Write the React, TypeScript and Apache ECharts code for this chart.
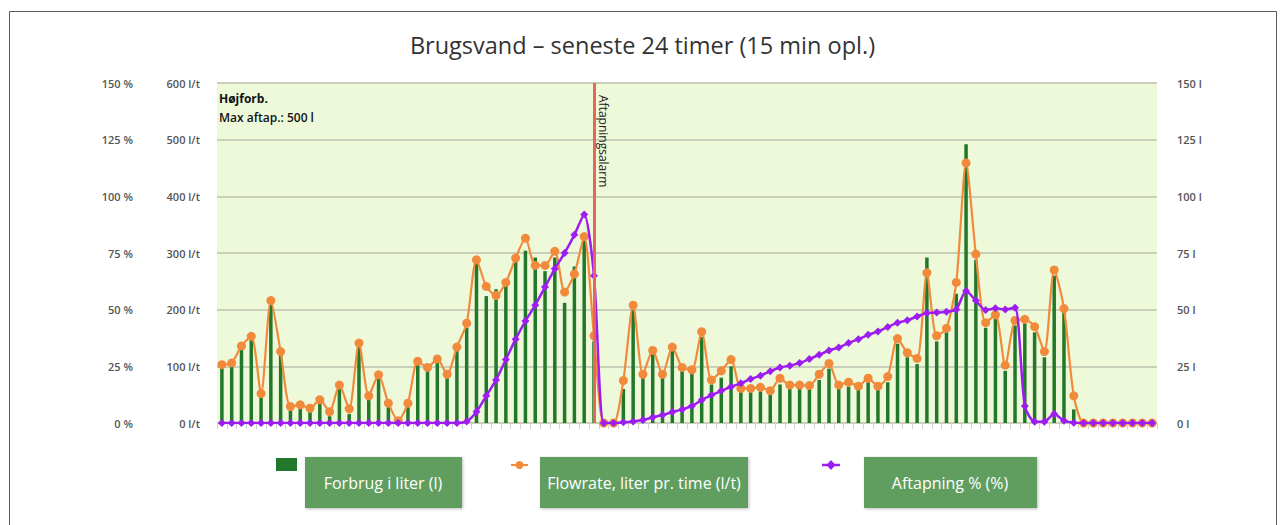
import React, { useEffect, useRef } from "react";
import * as echarts from "echarts";

const TITLE = "Brugsvand – seneste 24 timer (15 min opl.)";
const NOTE_1 = "Højforb.";
const NOTE_2 = "Max aftap.: 500 l";
const ALARM = "Aftapningsalarm";
const ALARM_INDEX = 38;

const LEGEND_NAMES = ["Forbrug i liter (l)", "Flowrate, liter pr. time (l/t)", "Aftapning % (%)"];

// 96 quarter-hour slots (24 h)
const categories: string[] = [];
for (let h = 0; h < 24; h++) {
  for (let m = 0; m < 60; m += 15) {
    categories.push(`${String(h).padStart(2, "0")}:${String(m).padStart(2, "0")}`);
  }
}

// Forbrug i liter (l) – right axis
const usage = [
  25, 26, 33, 37, 12, 53, 30, 6, 7, 5, 9, 3, 16, 4, 34, 11, 20, 7, 1, 7, 26, 24, 28, 21,
  32, 42, 71, 56, 59, 62, 71, 76, 73, 67, 73, 53, 69, 81, 36, 0, 0, 15, 50, 20, 31, 21, 32, 24,
  22, 38, 17, 20, 25, 14, 14, 14, 13, 17, 15, 15, 15, 19, 24, 15, 16, 15, 18, 15, 18, 35, 29, 26,
  73, 36, 40, 57, 123, 72, 42, 47, 23, 43, 44, 40, 29, 65, 50, 6, 0, 0, 0, 0, 0, 0, 0, 0,
];

// Flowrate, liter pr. time (l/t) – left inner axis
const flow = [
  103, 106, 136, 153, 52, 216, 126, 29, 32, 26, 41, 20, 67, 25, 141, 48, 85, 35, 4, 35, 109, 98, 113, 86,
  134, 176, 288, 241, 225, 248, 291, 326, 278, 278, 303, 231, 263, 329, 154, 0, 0, 75, 208, 86, 128, 86, 134, 98,
  94, 161, 76, 92, 112, 61, 61, 63, 57, 79, 67, 67, 66, 86, 105, 67, 72, 65, 79, 65, 82, 149, 124, 114,
  265, 154, 167, 248, 459, 298, 177, 191, 102, 181, 183, 170, 126, 270, 202, 48, 0, 0, 0, 0, 0, 0, 0, 0,
];

// Aftapning % (%) – left outer axis
const tapping = [
  0, 0, 0, 0, 0, 0, 0, 0, 0, 0, 0, 0, 0, 0, 0, 0, 0, 0, 0, 0, 0, 0, 0, 0,
  0, 0.7, 5, 12, 19, 28, 37, 45, 52, 60, 68, 75, 83, 92, 65, 0, 0, 0.3, 0.7, 1.3, 2.5, 3.5, 4.8, 6,
  7.5, 10.1, 12.3, 14.2, 16, 17.5, 19.4, 20.9, 22.8, 24.5, 25.3, 26.5, 28.2, 30.1, 32, 33.3, 35.3, 37, 38.9, 40.4, 42.4, 44.2, 45.3, 47,
  48.5, 48.7, 49.1, 50.1, 58.2, 54, 49.8, 50.6, 50.1, 50.9, 7.5, 0.6, 0.6, 4, 1, 0.1, 0, 0, 0, 0, 0, 0, 0, 0,
];

const GREEN_BAR = "#22782a";
const ORANGE = "#f28a3c";
const PURPLE = "#9d1cf0";
const BOX = "#5f9e5f";
const AXIS_FONT = "'Open Sans', sans-serif";
const NARROW = "'Liberation Sans Narrow', 'Open Sans', sans-serif";

export default function App() {
  const ref = useRef<HTMLDivElement>(null);
  useEffect(() => {
    if (!ref.current) return;
    const chart = echarts.init(ref.current, undefined, { renderer: "svg" });
    const axisLabel = { color: "#555", fontSize: 11, fontWeight: 600 as const, fontFamily: AXIS_FONT };
    const option: any = {
      animation: false,
      backgroundColor: "#fff",
      title: {
        text: TITLE,
        left: "center",
        top: 28,
        textStyle: { fontSize: 23.5, fontWeight: "normal", color: "#333", fontFamily: AXIS_FONT },
      },
      grid: {
        left: 217,
        right: 128,
        top: 83,
        bottom: 102,
        show: true,
        backgroundColor: "#eef9da",
        borderWidth: 0,
      },
      xAxis: {
        type: "category",
        data: categories,
        boundaryGap: true,
        axisLine: { show: false },
        axisTick: { show: true, interval: 0, length: 6, lineStyle: { color: "#d0d0d0" } },
        axisLabel: { show: false },
        splitLine: { show: false },
      },
      yAxis: [
        {
          type: "value",
          position: "left",
          offset: 67,
          min: 0,
          max: 150,
          interval: 25,
          axisLine: { show: false },
          axisTick: { show: false },
          splitLine: { show: false },
          axisLabel: { ...axisLabel, margin: 17, formatter: "{value} %" },
        },
        {
          type: "value",
          position: "left",
          min: 0,
          max: 600,
          interval: 100,
          axisLine: { show: false },
          axisTick: { show: false },
          splitLine: { show: true, lineStyle: { color: "#c8cfbb", width: 2 } },
          axisLabel: { ...axisLabel, margin: 17, formatter: "{value} l/t" },
        },
        {
          type: "value",
          position: "right",
          min: 0,
          max: 150,
          interval: 25,
          axisLine: { show: false },
          axisTick: { show: false },
          splitLine: { show: false },
          axisLabel: { ...axisLabel, margin: 20, formatter: "{value} l" },
        },
      ],
      series: [
        {
          name: LEGEND_NAMES[0],
          type: "bar",
          yAxisIndex: 2,
          data: usage,
          barWidth: 3.5,
          itemStyle: { color: GREEN_BAR },
          z: 2,
        },
        {
          name: LEGEND_NAMES[1],
          type: "line",
          yAxisIndex: 1,
          data: flow,
          smooth: 0.25,
          symbol: "circle",
          symbolSize: 9,
          showAllSymbol: true,
          lineStyle: { color: ORANGE, width: 2.2 },
          itemStyle: { color: ORANGE },
          z: 3,
          markLine: {
            silent: true,
            symbol: ["none", "none"],
            lineStyle: { color: "#e8655a", width: 3, type: "solid" },
            label: {
              show: true,
              formatter: ALARM,
              position: "insideStartTop",
              distance: 4,
              padding: [0, 0, 0, 8],
              color: "#222",
              fontSize: 12,
              fontFamily: AXIS_FONT,
            },
            data: [
              [
                { xAxis: categories[ALARM_INDEX], yAxis: 600 },
                { xAxis: categories[ALARM_INDEX], yAxis: 0 },
              ],
            ],
          },
        },
        {
          name: LEGEND_NAMES[2],
          type: "line",
          yAxisIndex: 0,
          data: tapping,
          smooth: 0.25,
          symbol: "diamond",
          symbolSize: 8,
          showAllSymbol: true,
          lineStyle: { color: PURPLE, width: 2.5 },
          itemStyle: { color: PURPLE },
          z: 4,
        },
      ],
      graphic: [
        {
          type: "rect",
          shape: { x: 9.5, y: 11.5, width: 1267, height: 530 },
          style: { fill: "none", stroke: "#5a5a5a", lineWidth: 1 },
          silent: true,
        },
        {
          type: "text",
          x: 219,
          y: 92,
          style: { text: NOTE_1, fill: "#111", font: `bold 12px ${AXIS_FONT}` },
        },
        {
          type: "text",
          x: 219,
          y: 111,
          style: { text: NOTE_2, fill: "#111", font: `600 12px ${AXIS_FONT}` },
        },
        // legend: usage
        { type: "rect", shape: { x: 276, y: 458, width: 21, height: 13 }, style: { fill: GREEN_BAR } },
        {
          type: "rect",
          shape: { x: 305, y: 457, width: 157, height: 51 },
          style: { fill: BOX, shadowBlur: 3, shadowColor: "rgba(0,0,0,0.25)", shadowOffsetX: 1, shadowOffsetY: 1 },
        },
        {
          type: "text",
          x: 383,
          y: 483,
          style: { text: LEGEND_NAMES[0], fill: "#fff", font: `16px ${NARROW}`, align: "center", verticalAlign: "middle" },
        },
        // legend: flow
        { type: "line", shape: { x1: 511, y1: 465, x2: 528, y2: 465 }, style: { stroke: ORANGE, lineWidth: 2 } },
        { type: "circle", shape: { cx: 519.5, cy: 465, r: 4 }, style: { fill: ORANGE } },
        {
          type: "rect",
          shape: { x: 540, y: 457, width: 208, height: 51 },
          style: { fill: BOX, shadowBlur: 3, shadowColor: "rgba(0,0,0,0.25)", shadowOffsetX: 1, shadowOffsetY: 1 },
        },
        {
          type: "text",
          x: 644,
          y: 483,
          style: { text: LEGEND_NAMES[1], fill: "#fff", font: `16px ${NARROW}`, align: "center", verticalAlign: "middle" },
        },
        // legend: tapping
        { type: "line", shape: { x1: 822, y1: 465, x2: 840, y2: 465 }, style: { stroke: PURPLE, lineWidth: 2.5 } },
        {
          type: "polygon",
          shape: { points: [[831, 460], [835.5, 465], [831, 470], [826.5, 465]] },
          style: { fill: PURPLE },
        },
        {
          type: "rect",
          shape: { x: 864, y: 457, width: 173, height: 51 },
          style: { fill: BOX, shadowBlur: 3, shadowColor: "rgba(0,0,0,0.25)", shadowOffsetX: 1, shadowOffsetY: 1 },
        },
        {
          type: "text",
          x: 950,
          y: 483,
          style: { text: LEGEND_NAMES[2], fill: "#fff", font: `16px ${NARROW}`, align: "center", verticalAlign: "middle" },
        },
      ],
    };
    chart.setOption(option);
    return () => chart.dispose();
  }, []);
  return (
    <div
      ref={ref}
      style={{ position: "absolute", left: 0, top: 0, width: 1285, height: 525 }}
    />
  );
}
